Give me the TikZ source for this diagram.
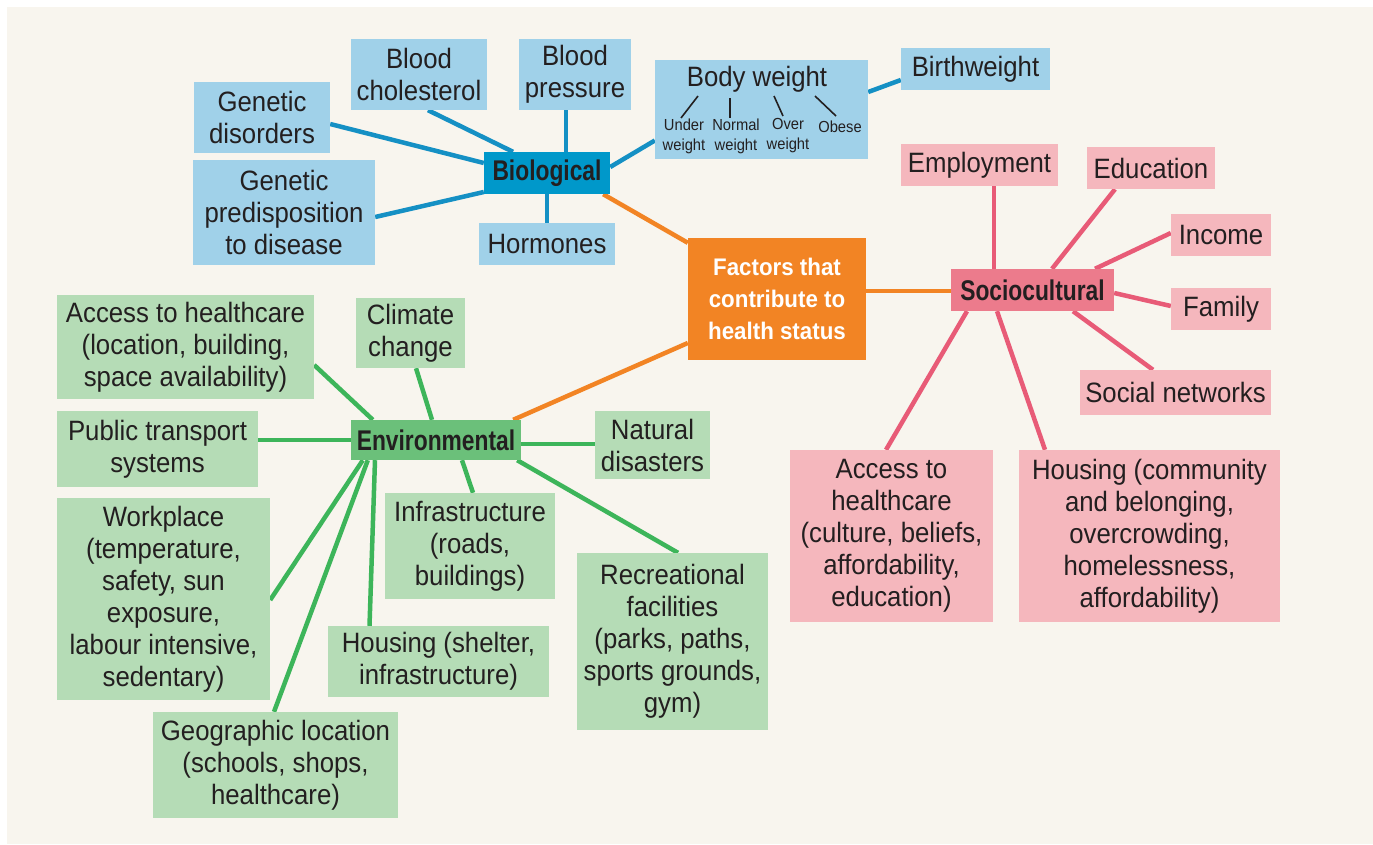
\documentclass[tikz,border=0pt]{standalone}
\usepackage{fontspec}
\setmainfont{Liberation Sans}[FakeStretch=0.92]
\newfontfamily\boldlab{Liberation Sans}[FakeStretch=0.8]
\newfontfamily\centfont{Liberation Sans}[FakeStretch=0.93]
\usetikzlibrary{calc,backgrounds}
\definecolor{bgc}{HTML}{F8F5EE}
\definecolor{txt}{HTML}{231F20}
\definecolor{blued}{HTML}{0098CA}
\definecolor{bluel}{HTML}{A0D1E9}
\definecolor{bluel2}{HTML}{1590C4}
\definecolor{orng}{HTML}{F28424}
\definecolor{pinkd}{HTML}{EC7B8C}
\definecolor{pinkl}{HTML}{F5B7BD}
\definecolor{pinkln}{HTML}{E85B77}
\definecolor{greend}{HTML}{6BC07A}
\definecolor{greenl}{HTML}{B5DCB6}
\definecolor{greenln}{HTML}{3DB55A}
\tikzset{
  box/.style={inner sep=0pt, align=center, text=txt, font=\fontsize{28}{32}\selectfont},
  bbox/.style={box, fill=bluel},
  pbox/.style={box, fill=pinkl},
  gbox/.style={box, fill=greenl},
  hub/.style={inner sep=0pt, align=center, text=txt, font=\boldlab\bfseries\fontsize{28.5}{32}\selectfont},
  sz/.style 2 args={minimum width=#1, minimum height=#2},
  bline/.style={draw=bluel2, line width=4.5pt},
  oline/.style={draw=orng, line width=4.5pt},
  pline/.style={draw=pinkln, line width=4.5pt},
  gline/.style={draw=greenln, line width=4.5pt},
  tick/.style={draw=txt, line width=1.6pt},
  small/.style={inner sep=0pt, align=center, text=txt, font=\fontsize{16}{20}\selectfont}
}
\begin{document}
\begin{tikzpicture}[x=1pt,y=-1pt]
\useasboundingbox (0,0) rectangle (1373,844);
% Biological
\node[hub, fill=blued, sz={126}{42}] (bio) at (547,173) {Biological};
\node[bbox, sz={136}{71}] (gd) at (262,117.5) {Genetic\\disorders};
\node[bbox, sz={136}{71}] (bc) at (419,74.5) {Blood\\cholesterol};
\node[bbox, sz={112}{71}] (bp) at (575,74.5) {Blood\\pressure};
\node[bbox, sz={213}{99}] (bw) at (761.5,109.5) {};
\node[box] (bwt) at (757,79) {Body weight};
\node[small] (uw) at (684,136) {Under\\weight};
\node[small] (nw) at (736,136) {Normal\\weight};
\node[small] (ow) at (788,136) {Over\\weight};
\node[small] (ob) at (840,126.5) {Obese};
\node[bbox, sz={149}{42}] (birth) at (975.5,69) {Birthweight};
\node[bbox, sz={182}{105}] (gp) at (284,212.5) {Genetic\\predisposition\\to disease};
\node[bbox, sz={136}{42}] (horm) at (547,244) {Hormones};
% Centre
\node[inner sep=0pt, align=center, text=white, fill=orng, sz={178}{122},
      font=\centfont\bfseries\fontsize{24}{32}\selectfont] (cen) at (777,299)
      {Factors that\\contribute to\\health status};
% Sociocultural
\node[hub, fill=pinkd, sz={163}{42}] (soc) at (1032.5,290) {Sociocultural};
\node[pbox, sz={157}{42}] (emp) at (979.5,165) {Employment};
\node[pbox, sz={128}{42}] (edu) at (1151,168) {Education};
\node[pbox, sz={100}{42}] (inc) at (1221,235) {Income};
\node[pbox, sz={100}{42}] (fam) at (1221,309) {Family};
\node[pbox, sz={191}{45}] (sn) at (1175.5,392.5) {Social networks};
\node[pbox, sz={203}{172}] (acc) at (891.5,536) {Access to\\healthcare\\(culture, beliefs,\\affordability,\\education)};
\node[pbox, sz={261}{172}] (hous) at (1149.5,536) {Housing (community\\and belonging,\\overcrowding,\\homelessness,\\affordability)};
% Environmental
\node[hub, fill=greend, sz={170}{40}] (env) at (436,440) {Environmental};
\node[gbox, sz={257}{104}] (ahc) at (185.5,347) {Access to healthcare\\(location, building,\\space availability)};
\node[gbox, sz={109}{70}] (cc) at (410.5,333) {Climate\\change};
\node[gbox, sz={201}{76}] (pt) at (157.5,449) {Public transport\\systems};
\node[gbox, sz={115}{68}] (nd) at (652.5,445) {Natural\\disasters};
\node[gbox, sz={213}{202}] (wp) at (163.5,599) {Workplace\\(temperature,\\safety, sun\\exposure,\\labour intensive,\\sedentary)};
\node[gbox, sz={170}{106}] (inf) at (470,546) {Infrastructure\\(roads,\\buildings)};
\node[gbox, sz={221}{71}] (hs) at (438.5,661.5) {Housing (shelter,\\infrastructure)};
\node[gbox, sz={191}{177}] (rec) at (672.5,641.5) {Recreational\\facilities\\(parks, paths,\\sports grounds,\\gym)};
\node[gbox, sz={245}{106}] (geo) at (275.5,765) {Geographic location\\(schools, shops,\\healthcare)};
\begin{pgfonlayer}{background}
\fill[bgc] (7,7) rectangle (1373,844);
% blue
\draw[bline] ($(gd.east)+(0,6.5)$) -- ($(bio.west)+(0,-10)$);
\draw[bline] ($(bc.south)+(9,0)$) -- ($(bio.north)+(-34,0)$);
\draw[bline] ($(bp.south)+(-9,0)$) -- ($(bio.north)+(19,0)$);
\draw[bline] ($(bio.east)+(0,-6)$) -- ($(bw.west)+(0,31)$);
\draw[bline] ($(bw.east)+(0,-17.5)$) -- ($(birth.west)+(0,11)$);
\draw[bline] ($(gp.east)+(0,4.5)$) -- ($(bio.west)+(0,19)$);
\draw[bline] (bio.south) -- (horm.north);
% orange
\draw[oline] ($(bio.south east)+(-7,0)$) -- ($(cen.north west)+(0,5)$);
\draw[oline] ($(cen.east)+(0,-8)$) -- ($(soc.west)+(0,1)$);
\draw[oline] ($(cen.west)+(0,44)$) -- ($(env.north east)+(-8,0)$);
% pink
\draw[pline] ($(soc.north)+(-38.5,0)$) -- ($(emp.south)+(14.5,0)$);
\draw[pline] ($(soc.north)+(19.5,0)$) -- ($(edu.south)+(-36,0)$);
\draw[pline] ($(soc.north)+(62.5,0)$) -- ($(inc.west)+(0,-2)$);
\draw[pline] ($(soc.east)+(0,3)$) -- ($(fam.west)+(0,-3)$);
\draw[pline] ($(soc.south)+(40.5,0)$) -- ($(sn.north)+(-22.5,0)$);
\draw[pline] ($(soc.south)+(-65.5,0)$) -- ($(acc.north)+(-5.5,0)$);
\draw[pline] ($(soc.south)+(-35.5,0)$) -- ($(hous.north)+(-104.5,0)$);
% green
\draw[gline] ($(env.north west)+(22,0)$) -- ($(ahc.east)+(0,18)$);
\draw[gline] ($(env.north)+(-4,0)$) -- ($(cc.south)+(5.5,0)$);
\draw[gline] (env.west) -- ($(pt.east)+(0,-9)$);
\draw[gline] ($(env.east)+(0,4)$) -- ($(nd.west)+(0,-1)$);
\draw[gline] ($(env.south)+(26,0)$) -- ($(inf.north)+(3,0)$);
\draw[gline] ($(env.south east)+(-4,0)$) -- ($(rec.north)+(5.5,0)$);
\draw[gline] ($(env.south)+(-61,0)$) -- ($(hs.north)+(-69,0)$);
\draw[gline] ($(env.south west)+(12,0)$) -- ($(wp.east)+(0,1)$);
\draw[gline] ($(env.south west)+(17,0)$) -- ($(geo.north)+(-1.5,0)$);
\end{pgfonlayer}
% body weight ticks
\draw[tick] ($(bwt)+(-59,17)$) -- ($(uw)+(-3,-18)$);
\draw[tick] ($(bwt)+(-27,19)$) -- ($(nw)+(-6,-18)$);
\draw[tick] ($(bwt)+(17,17)$) -- ($(ow)+(-5,-20)$);
\draw[tick] ($(bwt)+(58,17)$) -- ($(ob)+(-4,-10.5)$);
\end{tikzpicture}
\end{document}
